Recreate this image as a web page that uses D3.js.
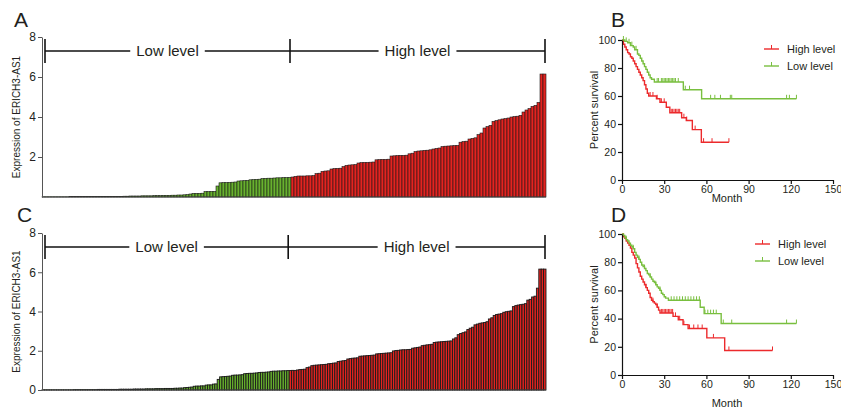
<!DOCTYPE html>
<html>
<head>
<meta charset="utf-8">
<script src="https://cdn.jsdelivr.net/npm/d3@7"></script>
<style>
body { margin: 0; background: #fff; }
text { font-family: "Liberation Sans", Arial, sans-serif; fill: #231f20; }
</style>
</head>
<body>
<svg width="841" height="410"></svg>
<script>
// expression waterfall, cohort 1 (panel A)
var lowA = [0.01,0.01,0.01,0.01,0.01,0.01,0.01,0.01,0.01,
	0.02,0.02,0.02,0.02,0.02,0.02,0.02,0.02,0.02,0.02,
	0.03,0.03,0.03,0.03,0.03,0.03,0.03,0.03,0.04,0.04,
	0.05,0.05,0.05,0.05,0.06,0.06,0.06,0.06,0.07,0.07,
	0.07,0.08,0.08,0.08,0.09,0.09,0.1,0.1,0.11,0.12,
	0.15,0.18,0.18,0.18,0.19,0.27,0.27,0.28,0.28,0.55,
	0.71,0.72,0.72,0.73,0.74,0.75,0.8,0.81,0.82,0.83,
	0.86,0.87,0.88,0.89,0.92,0.93,0.94,0.94,0.95,0.96,
	0.96,0.97,0.97,0.98];
var highA = [1.0,1.03,1.05,1.05,1.05,1.06,1.06,1.07,1.17,1.19,
	1.28,1.3,1.31,1.4,1.42,1.43,1.44,1.52,1.58,1.6,
	1.61,1.62,1.7,1.72,1.73,1.73,1.74,1.75,1.86,1.87,
	1.88,1.88,1.89,2.05,2.06,2.07,2.08,2.08,2.09,2.16,
	2.19,2.27,2.3,2.31,2.33,2.34,2.36,2.4,2.43,2.45,
	2.52,2.54,2.55,2.56,2.57,2.58,2.74,2.77,2.79,2.9,
	2.93,2.96,3.12,3.2,3.45,3.52,3.58,3.78,3.82,3.86,
	3.9,3.92,3.95,4.0,4.02,4.04,4.08,4.25,4.35,4.42,
	4.53,4.58,4.73,6.15,6.15];

// expression waterfall, cohort 2 (panel C)
var lowC = [0.01,0.01,0.01,0.01,0.01,0.01,0.01,0.01,
	0.01,0.01,0.01,0.01,0.01,0.02,0.02,0.02,0.02,0.02,
	0.02,0.02,0.02,0.02,0.02,0.03,0.03,0.03,0.03,0.03,
	0.03,0.03,0.03,0.03,0.04,0.04,0.04,0.04,0.04,0.04,
	0.05,0.05,0.05,0.05,0.05,0.06,0.06,0.06,0.06,0.07,
	0.07,0.07,0.07,0.08,0.08,0.08,0.08,0.09,0.09,0.1,
	0.1,0.12,0.13,0.14,0.15,0.19,0.2,0.2,0.21,0.21,
	0.25,0.26,0.26,0.3,0.31,0.54,0.67,0.68,0.69,0.7,
	0.71,0.75,0.76,0.76,0.77,0.78,0.83,0.84,0.85,0.85,
	0.86,0.87,0.89,0.9,0.9,0.91,0.92,0.95,0.96,0.96,
	0.97,0.97,0.98,0.98,0.99];
var highC = [0.99,1.0,0.99,1.02,1.04,1.05,1.06,1.14,1.17,1.24,1.26,1.27,
	1.28,1.29,1.3,1.31,1.34,1.35,1.37,1.38,1.45,1.47,
	1.49,1.5,1.58,1.6,1.62,1.63,1.64,1.72,1.73,1.74,
	1.75,1.76,1.77,1.78,1.84,1.85,1.86,1.87,1.88,1.89,
	1.9,1.99,2.01,2.02,2.04,2.05,2.05,2.06,2.07,2.13,
	2.15,2.17,2.19,2.26,2.28,2.3,2.31,2.33,2.42,2.44,
	2.45,2.46,2.47,2.48,2.49,2.5,2.6,2.66,2.82,2.88,
	2.92,2.96,3.08,3.15,3.2,3.32,3.36,3.4,3.42,3.44,
	3.48,3.62,3.68,3.8,3.85,3.87,3.89,3.96,3.99,4.01,
	4.03,4.25,4.3,4.33,4.35,4.37,4.4,4.58,4.62,4.74,
	4.78,5.19,6.16,6.16,6.16];

var barTicksA = [2, 4, 6, 8];
var barTicksC = [0, 2, 4, 6, 8];

// survival curves: [month, percent] at each step
var highB = [[0,100],[1,97],[2,95],[3,93],[4,91],[5,90],[6,88],[7,87],[8,85],[9,83],[10,81],
	[11,79],[12,77],[13,75],[14,73],[15,71],[16,68],[17,65],[18,62],[19,60],[24.5,58],
	[27,55.5],[31.5,52],[34,48],[42.4,44.5],[45.7,42.5],[50,36],[56.4,27],[76,27]];
var lowB = [[0,100],[2,99],[4,98],[6,96],[8,95],[9,93],[11,90],[12,89],[13,87],[14,85],
	[15,83],[16,81],[17,79],[18,77],[19,75],[20,73],[21,72],[23,70],[43.6,64.5],[56.6,58],[124,58]];
var highBCens = [20,22,25,28,30,35,36,37,38,39,40,41,44,46,52,58,64,76];
var lowBCens = [1,3,5,7,10,25,26,28,29,30,31,32,33,34,35,36,37,38,40,45,48,63,66,70,77,78,117,119,124];

var highD = [[0,100],[1,98],[2,97],[3,95],[4,93.5],[5,92],[6,90],[7,87],[8,85],[9,83],[10,79],
	[11,76],[12,73],[13,70],[14,68],[15,66],[16,64],[17,62],[18,60],[19,58],[20,55],[21,53],
	[22,52],[23,51],[24,50],[25,48],[26,46],[27,44],[36.3,41.6],[40,39.2],[43.4,35.7],[47,33],
	[60.3,26.3],[73,17.4],[107,17.4]];
var lowD = [[0,100],[1,99],[2,97.5],[3,96],[4,95],[5,93.5],[6,92],[7,91],[8,89.5],[9,87],[10,85],
	[11,83.5],[12,82],[13,80],[14,78],[15,77],[16,75.5],[17,74],[18,72],[19,71],[20,69.5],[21,68],
	[22,66.5],[23,65.5],[24,64],[25,62.5],[26,61.5],[27,60],[28,58],[29,57],[30,55.5],[31,54.5],
	[33,53],[55.6,48],[58.4,43.5],[70.5,36.5],[124,36.5]];
var highDCens = [17,22,25,28,29,30,31,32,33,34,35,36,38,41,44,48,51,54,57,65,76,107];
var lowDCens = [3,8,12,16,20,24,27,35,37,39,41,43,45,47,49,51,53,55,59,61,63,65,67,72,78,117,124];

var monthTicks = [0, 30, 60, 90, 120, 150];
var pctTicks = [0, 20, 40, 60, 80, 100];
var groups = ['Low level', 'High level'];
var legendNames = ['High level', 'Low level'];

var RED = '#e42320', GREEN = '#68b22e';
var KM_RED = '#ec2a2c', KM_GREEN = '#79bf3f';

var svg = d3.select('svg');

// panel letters
[['A', 14, 27], ['B', 611, 27], ['C', 17, 222], ['D', 611, 222]].forEach(function(l) {
	svg.append('text').attr('x', l[1]).attr('y', l[2]).text(l[0])
		.style('font-size', '21px');
});

function drawBars(low, high, ticks, top, bottom, bracketY, edge) {
	var vals = low.concat(high);
	var x = d3.scaleBand().domain(d3.range(vals.length)).range([42, 546]).padding(0);
	var y = d3.scaleLinear().domain([0, 8]).range([bottom, top]);
	var g = svg.append('g');

	g.selectAll('rect')
		.data(vals)
		.enter()
		.append('rect')
		.attr('x', function(d, i) { return x(i); })
		.attr('y', function(d) { return y(d); })
		.attr('width', x.bandwidth())
		.attr('height', function(d) { return y(0) - y(d); })
		.attr('fill', function(d, i) { return i < low.length ? GREEN : RED; })
		.attr('stroke', '#1a1a1a')
		.attr('stroke-width', edge);

	// baseline
	g.append('line')
		.attr('x1', 42).attr('x2', 546)
		.attr('y1', y(0)).attr('y2', y(0))
		.attr('stroke', '#444').attr('stroke-width', 1);

	var ax = g.append('g')
		.attr('transform', 'translate(42,0)')
		.call(d3.axisLeft(y).tickValues(ticks).tickSize(4).tickSizeOuter(0).tickPadding(2));
	ax.select('.domain').attr('stroke', '#555');
	ax.selectAll('.tick line').attr('stroke', '#555');
	ax.selectAll('text').style('font-size', '12px').style('font-family', '"Liberation Sans", Arial, sans-serif').attr('fill', '#231f20');

	g.append('text')
		.attr('transform', 'translate(20,' + (top + bottom) / 2 + ') rotate(-90)')
		.attr('text-anchor', 'middle')
		.style('font-size', '10px')
		.text('Expression of ERICH3-AS1');

	// group bracket
	var xs = [x.range()[0] + 3, x(low.length) - 1, x.range()[1] - 1];
	xs.forEach(function(px) {
		g.append('line').attr('x1', px).attr('x2', px)
			.attr('y1', bracketY - 12).attr('y2', bracketY + 12)
			.attr('stroke', '#111').attr('stroke-width', 1.6);
	});
	groups.forEach(function(name, k) {
		var a = xs[k], b = xs[k + 1], c = (a + b) / 2;
		var t = g.append('text').attr('x', c).attr('y', bracketY + 5)
			.attr('text-anchor', 'middle').style('font-size', '15px').text(name);
		var w = t.node().getComputedTextLength();
		[[a, c - w / 2 - 6], [c + w / 2 + 6, b]].forEach(function(seg) {
			g.append('line').attr('x1', seg[0]).attr('x2', seg[1])
				.attr('y1', bracketY).attr('y2', bracketY)
				.attr('stroke', '#111').attr('stroke-width', 1.6);
		});
	});
}

function survAt(steps, t) {
	var s = steps[0][1];
	steps.forEach(function(p) { if (p[0] <= t) s = p[1]; });
	return s;
}

function drawKM(series, top, bottom, monthY, legX, legY) {
	var x = d3.scaleLinear().domain([0, 150]).range([622, 833]);
	var y = d3.scaleLinear().domain([0, 100]).range([bottom, top]);
	var g = svg.append('g');

	var line = d3.line()
		.x(function(d) { return x(d[0]); })
		.y(function(d) { return y(d[1]); })
		.curve(d3.curveStepAfter);

	series.forEach(function(s) {
		g.append('path').datum(s.steps)
			.attr('d', line)
			.attr('fill', 'none')
			.attr('stroke', s.color)
			.attr('stroke-width', 1.4);
		g.selectAll(null)
			.data(s.cens)
			.enter()
			.append('line')
			.attr('x1', function(d) { return x(d); })
			.attr('x2', function(d) { return x(d); })
			.attr('y1', function(d) { return y(survAt(s.steps, d)); })
			.attr('y2', function(d) { return y(survAt(s.steps, d)) - 4; })
			.attr('stroke', s.color)
			.attr('stroke-width', 1);
	});

	var xa = g.append('g').attr('transform', 'translate(0,' + bottom + ')')
		.call(d3.axisBottom(x).tickValues(monthTicks).tickSize(4).tickSizeOuter(0).tickPadding(2));
	var ya = g.append('g').attr('transform', 'translate(622,0)')
		.call(d3.axisLeft(y).tickValues(pctTicks).tickSize(4).tickSizeOuter(0).tickPadding(2));
	[xa, ya].forEach(function(a) {
		a.select('.domain').attr('stroke', '#111').attr('stroke-width', 1.2);
		a.selectAll('.tick line').attr('stroke', '#111').attr('stroke-width', 1.2);
		a.selectAll('text').style('font-size', '10.5px').style('font-family', '"Liberation Sans", Arial, sans-serif').attr('fill', '#231f20');
	});

	g.append('text').attr('x', 727).attr('y', monthY)
		.attr('text-anchor', 'middle').style('font-size', '11px').text('Month');
	g.append('text')
		.attr('transform', 'translate(598,' + (top + bottom) / 2 + ') rotate(-90)')
		.attr('text-anchor', 'middle')
		.style('font-size', '11px')
		.text('Percent survival');

	// legend
	series.forEach(function(s, k) {
		var ly = legY + k * 17;
		g.append('line').attr('x1', legX).attr('x2', legX + 15)
			.attr('y1', ly).attr('y2', ly).attr('stroke', s.color).attr('stroke-width', 1.4);
		g.append('line').attr('x1', legX + 7.5).attr('x2', legX + 7.5)
			.attr('y1', ly).attr('y2', ly - 4).attr('stroke', s.color).attr('stroke-width', 1);
		g.append('text').attr('x', legX + 23).attr('y', ly + 4)
			.style('font-size', '11px').text(legendNames[k]);
	});
}

drawBars(lowA, highA, barTicksA, 37, 197, 51, 0.6);
drawBars(lowC, highC, barTicksC, 233, 390, 247, 0.9);

drawKM([
	{ steps: highB, cens: highBCens, color: KM_RED },
	{ steps: lowB, cens: lowBCens, color: KM_GREEN }
], 40, 180, 202, 764, 49);

drawKM([
	{ steps: highD, cens: highDCens, color: KM_RED },
	{ steps: lowD, cens: lowDCens, color: KM_GREEN }
], 234, 375, 407, 755, 244);
</script>
</body>
</html>
